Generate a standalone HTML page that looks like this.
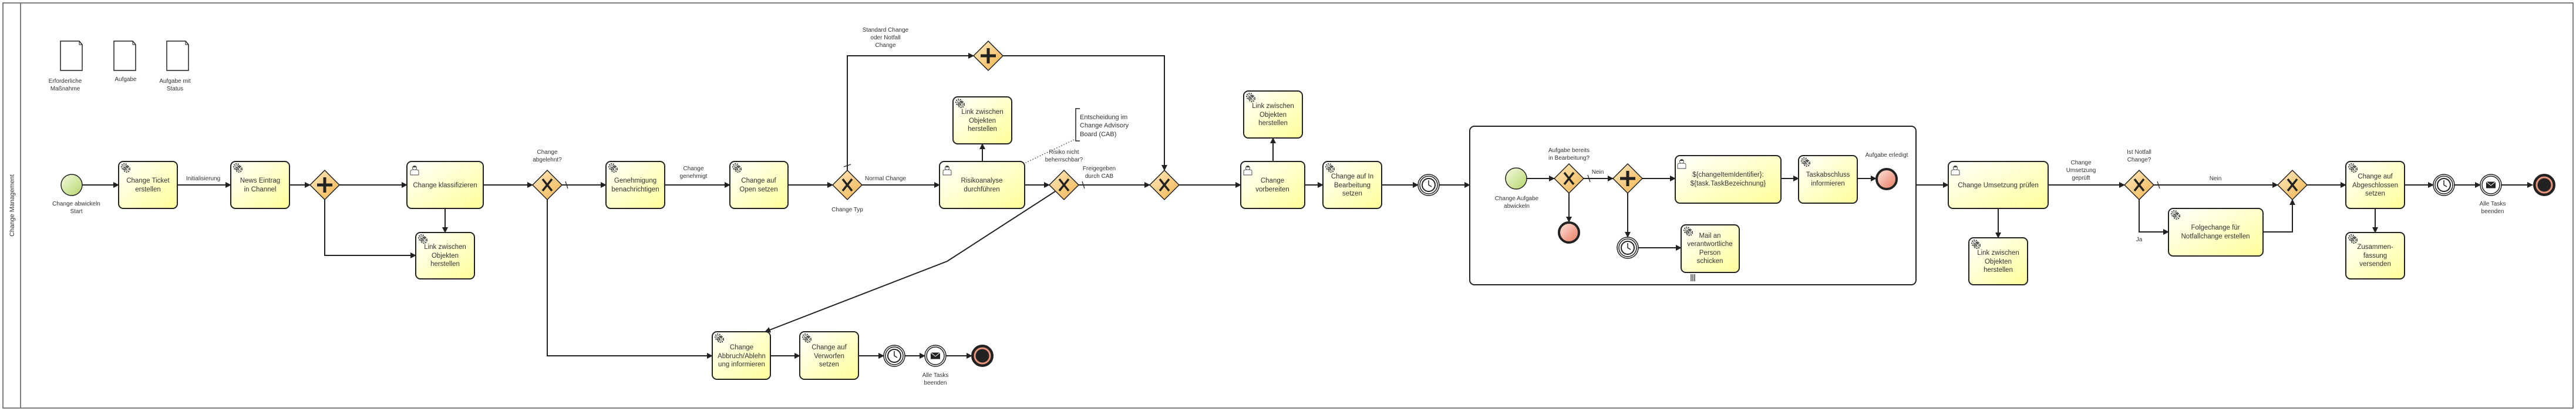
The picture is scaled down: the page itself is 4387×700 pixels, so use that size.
<!DOCTYPE html>
<html><head><meta charset="utf-8">
<style>
html,body{margin:0;padding:0;background:#fff;}
svg{display:block;font-family:"Liberation Sans",sans-serif;}
.t{font-size:11.5px;fill:#333;text-anchor:middle;}
.l{font-size:10px;fill:#333;text-anchor:middle;}
.task{fill:url(#tg);stroke:#222;stroke-width:2;}
.gw{fill:url(#gg);stroke:#222;stroke-width:1.5;}
.e{fill:none;stroke:#222;stroke-width:2;}
</style></head>
<body>
<svg width="4387" height="700" viewBox="0 0 4387 700" xmlns="http://www.w3.org/2000/svg">
<defs>
<linearGradient id="tg" x1="0" y1="0" x2="1" y2="1"><stop offset="0" stop-color="#ffffff"/><stop offset="1" stop-color="#ffff99"/></linearGradient>
<linearGradient id="gg" x1="0" y1="0" x2="1" y2="1"><stop offset="0" stop-color="#fdeac4"/><stop offset="1" stop-color="#f2b24a"/></linearGradient>
<linearGradient id="sg" x1="0" y1="0" x2="1" y2="1"><stop offset="0" stop-color="#f4fae0"/><stop offset="1" stop-color="#b5d66a"/></linearGradient>
<linearGradient id="eg" x1="0" y1="0" x2="1" y2="1"><stop offset="0" stop-color="#fde6e0"/><stop offset="1" stop-color="#e8785c"/></linearGradient>
<marker id="a" markerWidth="10" markerHeight="10" refX="9" refY="5" orient="auto" markerUnits="userSpaceOnUse"><path d="M0,0 L10,5 L0,10 z" fill="#222"/></marker>
<g id="gear"><circle r="5" fill="none" stroke="#444" stroke-width="2.2" stroke-dasharray="2 1.6"/><circle r="2.5" fill="none" stroke="#444" stroke-width="0.8"/></g>
<g id="gears"><use href="#gear" x="0" y="0"/><use href="#gear" x="4" y="4"/></g>
<g id="user"><circle cx="0" cy="-4" r="3.5" fill="#fff" stroke="#444" stroke-width="0.9"/><path d="M-7,8 L-7,2 Q-7,-1 -3,-1 L3,-1 Q7,-1 7,2 L7,8 Z" fill="#fff" stroke="#444" stroke-width="0.9"/><path d="M-3.5,-5 Q0,-9 3.5,-5" fill="#333"/></g>
<g id="xg"><path d="M-8,-10 L8,10 M8,-10 L-8,10" stroke="#222" stroke-width="3.5"/></g>
<g id="pg"><path d="M0,-13 L0,13 M-13,0 L13,0" stroke="#222" stroke-width="5"/></g>
<g id="timer"><circle r="18" fill="#fff" stroke="#222" stroke-width="1.5"/><circle r="15" fill="#fff" stroke="#222" stroke-width="1.5"/><circle r="11" fill="#fff" stroke="#222" stroke-width="2"/><path d="M0,-8 L0,0 L5,3" fill="none" stroke="#222" stroke-width="1.5"/></g>
<g id="msg"><circle r="18" fill="#fff" stroke="#222" stroke-width="1.5"/><circle r="15" fill="#fff" stroke="#222" stroke-width="1.5"/><rect x="-8" y="-5.5" width="16" height="11" fill="#222"/><path d="M-8,-5.5 L0,1 L8,-5.5" fill="none" stroke="#fff" stroke-width="1"/></g>
<g id="endT"><circle r="17" fill="#222" stroke="#222" stroke-width="4"/><circle r="13" fill="#222" stroke="#e9957d" stroke-width="3"/></g>
<g id="end"><circle r="17" fill="url(#eg)" stroke="#222" stroke-width="4"/></g>
<g id="start"><circle r="18" fill="url(#sg)" stroke="#222" stroke-width="1.5"/></g>
<g id="doc"><path d="M0,0 L32,0 L37,6 L37,50 L0,50 Z" fill="#fff" stroke="#222" stroke-width="1.5"/><path d="M32,0 L32,6 L37,6" fill="none" stroke="#222" stroke-width="1"/></g>
</defs>

<!-- pool -->
<rect x="5" y="5" width="4377" height="690" fill="none" stroke="#555" stroke-width="1.5"/>
<line x1="35" y1="5" x2="35" y2="695" stroke="#555" stroke-width="1.5"/>
<text x="0" y="0" transform="translate(24,350) rotate(-90)" style="font-size:11px;fill:#333;text-anchor:middle;">Change Management</text>

<!-- data objects -->
<use href="#doc" x="103" y="70"/><use href="#doc" x="194" y="70"/><use href="#doc" x="284" y="70"/>
<text class="l" x="111" y="141">Erforderliche</text><text class="l" x="111" y="154">Maßnahme</text>
<text class="l" x="214" y="138">Aufgabe</text>
<text class="l" x="298" y="141">Aufgabe mit</text><text class="l" x="298" y="154">Status</text>

<!-- edges -->
<g class="e" marker-end="url(#a)">
<path d="M140,315 H202"/>
<path d="M302,315 H393"/>
<path d="M493,315 H528"/>
<path d="M578,315 H693"/>
<path d="M553,340 V435 H708"/>
<path d="M758,355 V396"/>
<path d="M823,315 H907"/>
<path d="M957,315 H1032"/>
<path d="M1132,315 H1243"/>
<path d="M1342,315 H1418"/>
<path d="M1468,315 H1600"/>
<path d="M1443,290 V95 H1658"/>
<path d="M1708,95 H1983 V290"/>
<path d="M1673,275 V245"/>
<path d="M1745,315 H1787"/>
<path d="M1837,315 H1958"/>
<path d="M2008,315 H2113"/>
<path d="M2168,275 V235"/>
<path d="M2222,315 H2253"/>
<path d="M2353,315 H2415"/>
<path d="M2451,315 H2503"/>
<path d="M932,340 V606 H1213"/>
<path d="M1312,606 H1362"/>
<path d="M1462,606 H1505"/>
<path d="M1541,606 H1575"/>
<path d="M1611,606 H1655"/>
<path d="M1797,326 L1613,445 L1303,565"/>
<path d="M2600,304 H2647"/>
<path d="M2672,329 V378"/>
<path d="M2697,304 H2747"/>
<path d="M2797,304 H2853"/>
<path d="M2772,329 V404"/>
<path d="M2790,422 H2863"/>
<path d="M3033,304 H3063"/>
<path d="M3163,304 H3195"/>
<path d="M3263,315 H3318"/>
<path d="M3403,355 V405"/>
<path d="M3488,315 H3618"/>
<path d="M3668,315 H3879"/>
<path d="M3643,340 V395 H3693"/>
<path d="M3854,395 H3904 V340"/>
<path d="M3929,315 H3995"/>
<path d="M4045,355 V396"/>
<path d="M4095,315 H4144"/>
<path d="M4180,315 H4224"/>
<path d="M4260,315 H4313"/>
</g>
<!-- default slashes -->
<g stroke="#222" stroke-width="1.2">
<line x1="963" y1="309" x2="967" y2="321"/>
<line x1="1437" y1="284" x2="1449" y2="280"/>
<line x1="1843" y1="309" x2="1847" y2="321"/>
<line x1="2704" y1="298" x2="2708" y2="310"/>
<line x1="3674" y1="309" x2="3678" y2="321"/>
</g>
<!-- annotation -->
<path d="M1839,185 H1832 V240 H1839" fill="none" stroke="#222" stroke-width="1.5"/>
<line x1="1829" y1="238" x2="1745" y2="278" stroke="#222" stroke-width="1.2" stroke-dasharray="1.5 3"/>
<text x="1839" y="203" style="font-size:11px;fill:#333;">Entscheidung im</text>
<text x="1839" y="217" style="font-size:11px;fill:#333;">Change Advisory</text>
<text x="1839" y="232" style="font-size:11px;fill:#333;">Board (CAB)</text>

<!-- subprocess -->
<rect x="2503" y="215" width="760" height="270" rx="8" fill="none" stroke="#222" stroke-width="2"/>

<!-- events -->
<use href="#start" x="122" y="315"/>
<text class="l" x="130" y="350">Change abwickeln</text><text class="l" x="130" y="363">Start</text>
<use href="#timer" x="1523" y="606"/>
<use href="#msg" x="1593" y="606"/>
<text class="l" x="1593" y="642">Alle Tasks</text><text class="l" x="1593" y="655">beenden</text>
<use href="#endT" x="1673" y="606"/>
<use href="#timer" x="2433" y="315"/>
<use href="#start" x="2582" y="304"/>
<text class="l" x="2583" y="341">Change Aufgabe</text><text class="l" x="2583" y="354">abwickeln</text>
<use href="#end" x="2672" y="396"/>
<use href="#timer" x="2772" y="422"/>
<use href="#end" x="3213" y="305"/>
<text class="l" x="3213" y="267">Aufgabe erledigt</text>
<use href="#timer" x="4162" y="315"/>
<use href="#msg" x="4242" y="315"/>
<text class="l" x="4245" y="350">Alle Tasks</text><text class="l" x="4245" y="363">beenden</text>
<use href="#endT" x="4333" y="315"/>

<!-- gateways -->
<g>
<path class="gw" d="M553,290 L578,315 L553,340 L528,315 Z"/><use href="#pg" x="553" y="315"/>
<path class="gw" d="M932,290 L957,315 L932,340 L907,315 Z"/><use href="#xg" x="932" y="315"/>
<path class="gw" d="M1443,290 L1468,315 L1443,340 L1418,315 Z"/><use href="#xg" x="1443" y="315"/>
<path class="gw" d="M1683,70 L1708,95 L1683,120 L1658,95 Z"/><use href="#pg" x="1683" y="95"/>
<path class="gw" d="M1812,290 L1837,315 L1812,340 L1787,315 Z"/><use href="#xg" x="1812" y="315"/>
<path class="gw" d="M1983,290 L2008,315 L1983,340 L1958,315 Z"/><use href="#xg" x="1983" y="315"/>
<path class="gw" d="M2672,279 L2697,304 L2672,329 L2647,304 Z"/><use href="#xg" x="2672" y="304"/>
<path class="gw" d="M2772,279 L2797,304 L2772,329 L2747,304 Z"/><use href="#pg" x="2772" y="304"/>
<path class="gw" d="M3643,290 L3668,315 L3643,340 L3618,315 Z"/><use href="#xg" x="3643" y="315"/>
<path class="gw" d="M3904,290 L3929,315 L3904,340 L3879,315 Z"/><use href="#xg" x="3904" y="315"/>
</g>

<!-- edge labels -->
<text class="l" x="346" y="307">Initialisierung</text>
<text class="l" x="932" y="262">Change</text><text class="l" x="932" y="275">abgelehnt?</text>
<text class="l" x="1181" y="290">Change</text><text class="l" x="1181" y="303">genehmigt</text>
<text class="l" x="1508" y="54">Standard Change</text><text class="l" x="1508" y="67">oder Notfall</text><text class="l" x="1508" y="80">Change</text>
<text class="l" x="1508" y="307">Normal Change</text>
<text class="l" x="1443" y="360">Change Typ</text>
<text class="l" x="1812" y="262">Risiko nicht</text><text class="l" x="1812" y="275">beherrschbar?</text>
<text class="l" x="1872" y="290">Freigegeben</text><text class="l" x="1872" y="303">durch CAB</text>
<text class="l" x="2672" y="259">Aufgabe bereits</text><text class="l" x="2672" y="272">in Bearbeitung?</text>
<text class="l" x="2721" y="296">Nein</text>
<text class="l" x="3544" y="280">Change</text><text class="l" x="3544" y="293">Umsetzung</text><text class="l" x="3544" y="306">geprüft</text>
<text class="l" x="3643" y="262">Ist Notfall</text><text class="l" x="3643" y="275">Change?</text>
<text class="l" x="3773" y="307">Nein</text>
<text class="l" x="3643" y="411">Ja</text>

<!-- tasks -->
<g>
<rect class="task" x="202" y="275" width="100" height="80" rx="8"/><use href="#gears" x="212" y="284"/>
<text class="t" x="252" y="311">Change Ticket</text><text class="t" x="252" y="326">erstellen</text>

<rect class="task" x="393" y="275" width="100" height="80" rx="8"/><use href="#gears" x="403" y="284"/>
<text class="t" x="443" y="311">News Eintrag</text><text class="t" x="443" y="326">in Channel</text>

<rect class="task" x="693" y="275" width="130" height="80" rx="8"/><use href="#user" x="706" y="290"/>
<text class="t" x="758" y="319">Change klassifizieren</text>

<rect class="task" x="708" y="396" width="100" height="79" rx="8"/><use href="#gears" x="718" y="405"/>
<text class="t" x="758" y="424">Link zwischen</text><text class="t" x="758" y="439">Objekten</text><text class="t" x="758" y="453">herstellen</text>

<rect class="task" x="1032" y="275" width="100" height="80" rx="8"/><use href="#gears" x="1042" y="284"/>
<text class="t" x="1082" y="311">Genehmigung</text><text class="t" x="1082" y="326">benachrichtigen</text>

<rect class="task" x="1243" y="275" width="99" height="80" rx="8"/><use href="#gears" x="1253" y="284"/>
<text class="t" x="1292" y="311">Change auf</text><text class="t" x="1292" y="326">Open setzen</text>

<rect class="task" x="1600" y="275" width="145" height="80" rx="8"/><use href="#user" x="1613" y="290"/>
<text class="t" x="1672" y="311">Risikoanalyse</text><text class="t" x="1672" y="326">durchführen</text>

<rect class="task" x="1623" y="165" width="100" height="80" rx="8"/><use href="#gears" x="1633" y="174"/>
<text class="t" x="1673" y="194">Link zwischen</text><text class="t" x="1673" y="209">Objekten</text><text class="t" x="1673" y="223">herstellen</text>

<rect class="task" x="1213" y="565" width="99" height="81" rx="8"/><use href="#gears" x="1223" y="574"/>
<text class="t" x="1263" y="595">Change</text><text class="t" x="1263" y="610">Abbruch/Ablehn</text><text class="t" x="1263" y="624">ung informieren</text>

<rect class="task" x="1362" y="565" width="100" height="81" rx="8"/><use href="#gears" x="1372" y="574"/>
<text class="t" x="1412" y="595">Change auf</text><text class="t" x="1412" y="610">Verworfen</text><text class="t" x="1412" y="624">setzen</text>

<rect class="task" x="2113" y="275" width="109" height="80" rx="8"/><use href="#user" x="2125" y="290"/>
<text class="t" x="2167" y="311">Change</text><text class="t" x="2167" y="326">vorbereiten</text>

<rect class="task" x="2118" y="155" width="100" height="80" rx="8"/><use href="#gears" x="2128" y="164"/>
<text class="t" x="2168" y="184">Link zwischen</text><text class="t" x="2168" y="199">Objekten</text><text class="t" x="2168" y="213">herstellen</text>

<rect class="task" x="2253" y="275" width="100" height="80" rx="8"/><use href="#gears" x="2263" y="284"/>
<text class="t" x="2303" y="304">Change auf In</text><text class="t" x="2303" y="319">Bearbeitung</text><text class="t" x="2303" y="333">setzen</text>

<rect class="task" x="2853" y="265" width="180" height="81" rx="8"/><use href="#user" x="2864" y="279"/>
<text class="t" x="2943" y="301">${changeItemIdentifier}:</text><text class="t" x="2943" y="316">${task.TaskBezeichnung}</text>

<rect class="task" x="3063" y="265" width="100" height="81" rx="8"/><use href="#gears" x="3073" y="274"/>
<text class="t" x="3113" y="301">Taskabschluss</text><text class="t" x="3113" y="316">informieren</text>

<rect class="task" x="2863" y="383" width="99" height="81" rx="8"/><use href="#gears" x="2873" y="392"/>
<text class="t" x="2912" y="405">Mail an</text><text class="t" x="2912" y="419">verantwortliche</text><text class="t" x="2912" y="434">Person</text><text class="t" x="2912" y="448">schicken</text>
<path d="M2880,467 V479 M2883,467 V479 M2886,467 V479" stroke="#222" stroke-width="1.3"/>

<rect class="task" x="3318" y="275" width="170" height="80" rx="8"/><use href="#user" x="3330" y="290"/>
<text class="t" x="3403" y="319">Change Umsetzung prüfen</text>

<rect class="task" x="3353" y="405" width="100" height="80" rx="8"/><use href="#gears" x="3363" y="414"/>
<text class="t" x="3403" y="434">Link zwischen</text><text class="t" x="3403" y="449">Objekten</text><text class="t" x="3403" y="463">herstellen</text>

<rect class="task" x="3693" y="355" width="161" height="81" rx="8"/><use href="#gears" x="3703" y="364"/>
<text class="t" x="3773" y="391">Folgechange für</text><text class="t" x="3773" y="406">Notfallchange erstellen</text>

<rect class="task" x="3995" y="275" width="100" height="80" rx="8"/><use href="#gears" x="4005" y="284"/>
<text class="t" x="4045" y="304">Change auf</text><text class="t" x="4045" y="319">Abgeschlossen</text><text class="t" x="4045" y="333">setzen</text>

<rect class="task" x="3995" y="396" width="100" height="79" rx="8"/><use href="#gears" x="4005" y="405"/>
<text class="t" x="4045" y="424">Zusammen-</text><text class="t" x="4045" y="439">fassung</text><text class="t" x="4045" y="453">versenden</text>
</g>
</svg>
</body></html>
